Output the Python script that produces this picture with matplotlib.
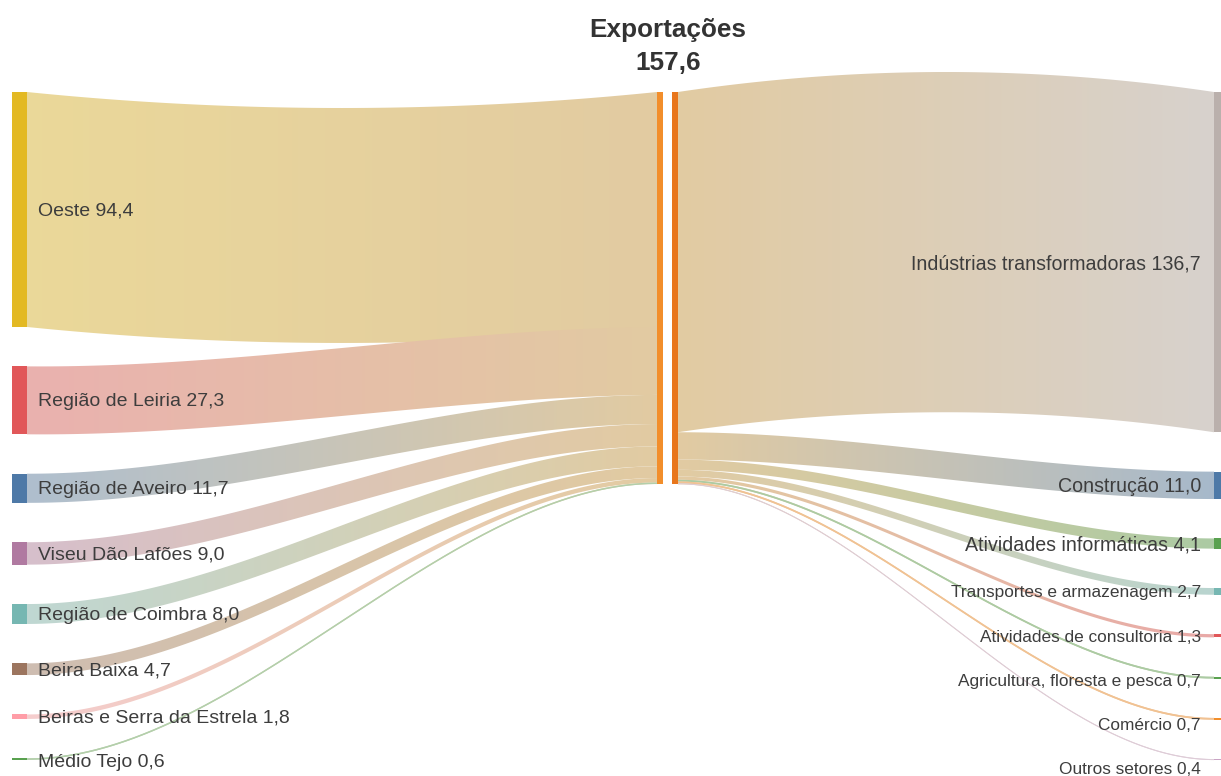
import numpy as np
import matplotlib.pyplot as plt
from matplotlib.patches import Polygon, Rectangle
from matplotlib.colors import to_rgb

# data
regions = ["Oeste", "Região de Leiria", "Região de Aveiro", "Viseu Dão Lafões",
           "Região de Coimbra", "Beira Baixa", "Beiras e Serra da Estrela", "Médio Tejo"]
region_values = [94.4, 27.3, 11.7, 9.0, 8.0, 4.7, 1.8, 0.6]
region_colors = ["#E3B923", "#E15759", "#4E79A7", "#B07AA1",
                 "#76B7B2", "#9C755F", "#FF9DA7", "#59A14F"]

sectors = ["Indústrias transformadoras", "Construção", "Atividades informáticas",
           "Transportes e armazenagem", "Atividades de consultoria",
           "Agricultura, floresta e pesca", "Comércio", "Outros setores"]
sector_values = [136.7, 11.0, 4.1, 2.7, 1.3, 0.7, 0.7, 0.4]
sector_colors = ["#BAB0AC", "#4E79A7", "#59A14F", "#76B7B2",
                 "#E15759", "#59A14F", "#F28E2B", "#C9A3C4"]
sector_fontsize = [14.1, 14.1, 14.1, 12.4, 12.4, 12.4, 12.4, 12.4]

total_name = "Exportações"
total_value = 157.6

W, H = 1221, 776
TOP = 92
GAP = 39.4
K = 2.489          # pixels per unit
LABEL_STEP = 44    # minimum vertical distance between labels
X_LEFT = (12, 27)
X_MID_IN = (657, 663)
X_MID_OUT = (672, 678)
X_RIGHT = (1214, 1229)
TEXT = "#3d3d3d"
MID_LINK = "#E2CBA2"

plt.rcParams['font.family'] = ['Liberation Sans', 'DejaVu Sans']

fig = plt.figure(figsize=(W / 100, H / 100), dpi=100)
ax = fig.add_axes([0, 0, 1, 1])
ax.set_xlim(0, W)
ax.set_ylim(H, 0)
ax.axis("off")


def fmt(v):
    return f"{v:.1f}".replace(".", ",")


def light(c, a=0.4):
    # washed-out link tint
    c = np.array(to_rgb(c))
    base = np.array([0.94, 0.93, 0.91])
    return a * c + (1 - a) * base


def stack(values):
    pos, y = [], TOP
    for v in values:
        pos.append((y, y + v * K))
        y += v * K + GAP
    return pos


def label_rows(pos):
    rows, prev = [], -1e9
    for a, b in pos:
        y = max((a + b) / 2 + 1.5, prev + LABEL_STEP)
        rows.append(y)
        prev = y
    return rows


def smooth(t):
    return 3 * t ** 2 - 2 * t ** 3


def link(x0, x1, s0, s1, d0, d1, c0, c1, sag):
    t = np.linspace(0, 1, 200)
    x = x0 + (x1 - x0) * t
    bump = sag * 4 * t * (1 - t)
    top = s0 + (d0 - s0) * smooth(t) + bump
    bot = s1 + (d1 - s1) * smooth(t) + bump
    pts = np.vstack([np.column_stack([x, top]), np.column_stack([x[::-1], bot[::-1]])])
    poly = Polygon(pts, closed=True, facecolor="none", edgecolor="none")
    ax.add_patch(poly)
    grad = np.linspace(0, 1, 256)[None, :, None]
    img = (1 - grad) * np.array(c0)[None, None, :] + grad * np.array(c1)[None, None, :]
    ymin, ymax = min(top.min(), bot.min()) - 2, max(top.max(), bot.max()) + 2
    im = ax.imshow(img, extent=[x0, x1, ymax, ymin], aspect="auto",
                   interpolation="bilinear", zorder=1)
    im.set_clip_path(poly)
    # thin links still need to show up
    if (s1 - s0) < 2:
        ax.plot(x, (top + bot) / 2, color=c1 if x0 > 600 else c0,
                lw=max((s1 - s0) * 0.72, 0.6), zorder=1, solid_capstyle="butt")


left_pos = stack(region_values)
right_pos = stack(sector_values)

# regions -> exportações
y = TOP
for v, (a, b), c in zip(region_values, left_pos, region_colors):
    h = v * K
    sag = 16 * (v / 94.4) ** 2
    link(X_LEFT[1], X_MID_IN[0], a, b, y, y + h, light(c), to_rgb(MID_LINK), sag)
    y += h

# exportações -> sectors
y = TOP
for v, (a, b), c in zip(sector_values, right_pos, sector_colors):
    h = v * K
    sag = -20 * (v / 136.7) ** 2
    link(X_MID_OUT[1], X_RIGHT[0], y, y + h, a, b, to_rgb(MID_LINK), light(c, 0.45), sag)
    y += h

# nodes
for name, v, (a, b), c, ly in zip(regions, region_values, left_pos, region_colors,
                                  label_rows(left_pos)):
    ax.add_patch(Rectangle((X_LEFT[0], a), X_LEFT[1] - X_LEFT[0], max(b - a, 1.2),
                           facecolor=c, edgecolor="none", zorder=3))
    ax.text(X_LEFT[1] + 11, ly, f"{name} {fmt(v)}", ha="left", va="center",
            fontsize=14.0, color=TEXT, zorder=4)

for name, v, (a, b), c, fs, ly in zip(sectors, sector_values, right_pos, sector_colors,
                                      sector_fontsize, label_rows(right_pos)):
    ax.add_patch(Rectangle((X_RIGHT[0], a), X_RIGHT[1] - X_RIGHT[0], max(b - a, 1.2),
                           facecolor=c, edgecolor="none", zorder=3))
    ax.text(X_RIGHT[0] - 13, ly, f"{name} {fmt(v)}", ha="right",
            va="center", fontsize=fs, color=TEXT, zorder=4)

mid_h = total_value * K
ax.add_patch(Rectangle((X_MID_IN[0], TOP), X_MID_IN[1] - X_MID_IN[0], mid_h,
                       facecolor="#F28E2B", edgecolor="none", zorder=3))
ax.add_patch(Rectangle((X_MID_OUT[0], TOP), X_MID_OUT[1] - X_MID_OUT[0], mid_h,
                       facecolor="#E8761C", edgecolor="none", zorder=3))
ax.text(668, 29.5, total_name, ha="center", va="center", fontsize=18.8,
        fontweight="bold", color="#333333")
ax.text(668, 63.5, fmt(total_value), ha="center", va="center", fontsize=18.8,
        fontweight="bold", color="#333333")

fig.savefig("out.png", dpi=100)
